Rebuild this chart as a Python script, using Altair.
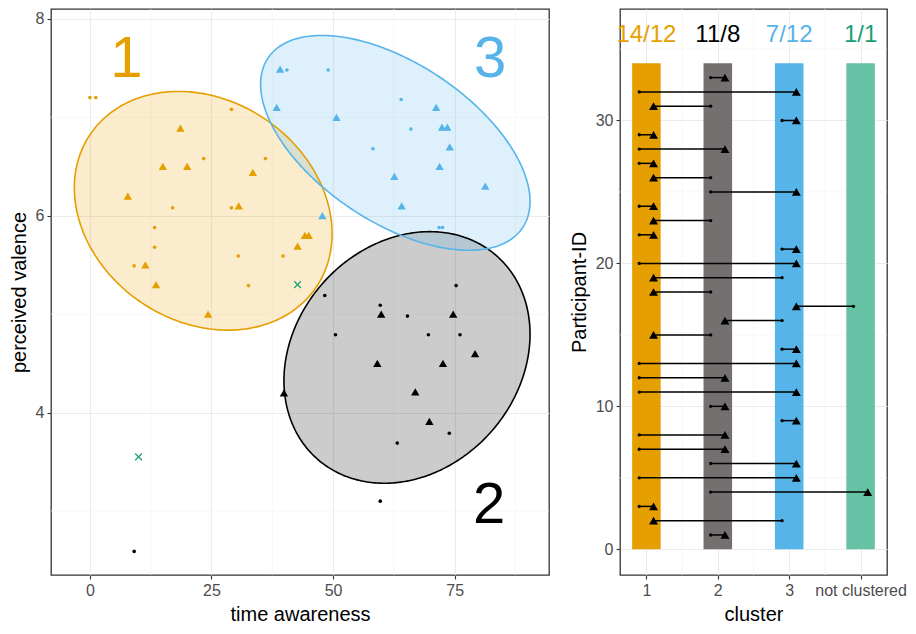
import altair as alt
import numpy as np
import pandas as pd

# ---------------- left panel: points (time awareness vs perceived valence) ----------------
c1_dot_x = [0.0, 1.2, 29.1, 23.4, 36.1, 17.0, 29.1, 13.3, 13.3, 9.1, 30.5, 39.7, 32.6]
c1_dot_y = [7.20, 7.20, 7.08, 6.58, 6.58, 6.08, 6.08, 5.88, 5.68, 5.49, 5.59, 5.59, 5.29]
c1_tri_x = [18.6, 15.0, 20.0, 33.5, 7.8, 30.6, 44.2, 45.0, 42.7, 11.4, 13.6, 24.3]
c1_tri_y = [6.89, 6.50, 6.50, 6.44, 6.20, 6.10, 5.80, 5.80, 5.69, 5.50, 5.30, 5.00]
c2_dot_x = [75.3, 48.3, 59.7, 65.3, 50.5, 69.6, 76.1, 73.9, 63.2, 59.7, 9.1]
c2_dot_y = [5.29, 5.19, 5.09, 4.98, 4.79, 4.79, 4.79, 3.79, 3.69, 3.10, 2.59]
c2_tri_x = [59.9, 74.7, 59.1, 72.6, 79.2, 66.9, 69.8, 39.9]
c2_tri_y = [5.00, 5.00, 4.50, 4.50, 4.60, 4.21, 3.91, 4.20]
c3_dot_x = [40.5, 49.0, 64.0, 66.0, 58.2, 71.8, 72.5]
c3_dot_y = [7.48, 7.48, 7.18, 6.88, 6.68, 5.88, 5.88]
c3_tri_x = [39.1, 38.4, 50.7, 71.2, 72.4, 73.5, 74.0, 71.9, 62.6, 81.3, 64.1, 47.8]
c3_tri_y = [7.49, 7.10, 7.00, 7.10, 6.90, 6.90, 6.70, 6.50, 6.40, 6.30, 6.10, 6.00]
nc_x = [10.0, 42.7]
nc_y = [3.55, 5.30]

# ellipse parameters per cluster (centre, x half-extent, y shift at x-extreme, y half-height term)
ell_cluster = ["1", "2", "3"]
ell_cx = [23.3, 65.2, 62.8]
ell_cy = [6.05, 4.56, 6.74]
ell_a = [26.5, 25.3, 27.7]
ell_b = [-0.233, 0.236, -0.595]
ell_c = [1.19, 1.256, 0.915]

big_label = ["1", "2", "3"]
big_label_x = [7.5, 82.1, 82.3]
big_label_y = [7.58, 3.05, 7.58]

# ---------------- right panel: participant transitions ----------------
participant = list(range(1, 34))
from_cluster = [2, 3, 1, 2, 1, 2, 1, 1, 3, 2, 1, 1, 1, 3, 2, 3, 4, 2, 3, 1, 3, 1, 2, 1, 2, 2, 1, 1, 1, 3, 2, 1, 2]
to_cluster = [2, 1, 1, 4, 3, 3, 2, 2, 3, 2, 3, 2, 3, 3, 1, 2, 3, 1, 1, 3, 3, 1, 1, 1, 3, 1, 1, 2, 1, 3, 1, 3, 2]
bar_cluster = [1, 2, 3, 4]
bar_top = 34
count_labels = ["14/12", "11/8", "7/12", "1/1"]
cluster_tick_labels = ["1", "2", "3", "not clustered"]

# ---------------- styling ----------------
FONT = "Liberation Sans"
point_col = {"1": "#E69F00", "2": "#000000", "3": "#56B4E9", "4": "#1B9E77"}
bar_col = {"1": "#E69F00", "2": "#747070", "3": "#56B4E9", "4": "#66C2A5"}
GRID_MINOR = "#F4F4F4"

# ---------------- build left panel ----------------
def frame(xs, ys, cl):
    return pd.DataFrame({"x": xs, "y": ys, "col": point_col[cl]})

dots = pd.concat([frame(c1_dot_x, c1_dot_y, "1"), frame(c2_dot_x, c2_dot_y, "2"),
                  frame(c3_dot_x, c3_dot_y, "3")], ignore_index=True)
tris = pd.concat([frame(c1_tri_x, c1_tri_y, "1"), frame(c2_tri_x, c2_tri_y, "2"),
                  frame(c3_tri_x, c3_tri_y, "3")], ignore_index=True)
cross = frame(nc_x, nc_y, "4")

area_rows, line_rows = [], []
for k, cl in enumerate(ell_cluster):
    t = np.linspace(0, np.pi, 181)
    xs = ell_cx[k] + ell_a[k] * np.cos(t)
    base = ell_cy[k] + ell_b[k] * np.cos(t)
    area_rows.append(pd.DataFrame({"x": xs, "y": base + ell_c[k] * np.sin(t),
                                   "y2": base - ell_c[k] * np.sin(t), "cl": cl,
                                   "col": point_col[cl]}))
    t2 = np.linspace(0, 2 * np.pi, 361)
    line_rows.append(pd.DataFrame({"x": ell_cx[k] + ell_a[k] * np.cos(t2),
                                   "y": ell_cy[k] + ell_b[k] * np.cos(t2) + ell_c[k] * np.sin(t2),
                                   "i": np.arange(len(t2)), "cl": cl, "col": point_col[cl]}))
ell_area = pd.concat(area_rows, ignore_index=True)
ell_line = pd.concat(line_rows, ignore_index=True)

labels_df = pd.DataFrame({"x": big_label_x, "y": big_label_y, "t": big_label,
                          "col": [point_col[c] for c in big_label]})

sx1 = alt.Scale(domain=[-8, 94.4], nice=False, zero=False)
sy1 = alt.Scale(domain=[2.35, 8.1], nice=False, zero=False)
ax1x = alt.Axis(values=[0, 25, 50, 75], title="time awareness", labelFlush=False)
ax1y = alt.Axis(values=[4, 6, 8], title="perceived valence")
X1 = alt.X("x:Q", scale=sx1, axis=ax1x)
Y1 = alt.Y("y:Q", scale=sy1, axis=ax1y, stack=None)

minor_x1 = [12.5, 37.5, 62.5, 87.5]
minor_y1 = [3, 5, 7]

l_minor_x = alt.Chart(pd.DataFrame({"x": minor_x1})).mark_rule(
    color=GRID_MINOR, strokeWidth=0.7).encode(x=X1)
l_minor_y = alt.Chart(pd.DataFrame({"y": minor_y1})).mark_rule(
    color=GRID_MINOR, strokeWidth=0.7).encode(y=Y1)
l_area = alt.Chart(ell_area).mark_area(fillOpacity=0.2).encode(
    x=X1, y=Y1, y2="y2:Q", color=alt.Color("col:N", scale=None), detail="cl:N")
l_line = alt.Chart(ell_line).mark_line(strokeWidth=1.6).encode(
    x=X1, y=Y1, color=alt.Color("col:N", scale=None), detail="cl:N", order="i:Q")
l_dots = alt.Chart(dots).mark_circle(size=13, opacity=1).encode(
    x=X1, y=Y1, color=alt.Color("col:N", scale=None))
l_tris = alt.Chart(tris).mark_point(shape="triangle-up", filled=True, size=70, opacity=1).encode(
    x=X1, y=Y1, color=alt.Color("col:N", scale=None))
l_cross = alt.Chart(cross).mark_point(shape="M-1,-1L1,1M-1,1L1,-1", filled=False, size=45,
                                      strokeWidth=1.2, opacity=1).encode(
    x=X1, y=Y1, color=alt.Color("col:N", scale=None))
l_text = alt.Chart(labels_df).mark_text(font=FONT, fontSize=58, baseline="middle").encode(
    x=X1, y=Y1, text="t:N", color=alt.Color("col:N", scale=None))

W1, H = 498, 566
left = alt.layer(l_minor_x, l_minor_y, l_area, l_line, l_dots, l_tris, l_cross, l_text).properties(
    width=W1, height=H)

# ---------------- build right panel ----------------
seg = pd.DataFrame({"id": participant,
                    "xa": [c - 0.1 for c in from_cluster],
                    "xb": [c + 0.1 for c in to_cluster]})
bars = pd.DataFrame({"x": [c - 0.2 for c in bar_cluster], "x2": [c + 0.2 for c in bar_cluster],
                     "y": [0] * 4, "y2": [bar_top] * 4,
                     "col": [bar_col[str(c)] for c in bar_cluster]})
counts = pd.DataFrame({"x": bar_cluster, "y": [36] * 4, "t": count_labels,
                       "col": [point_col[str(c)] for c in bar_cluster]})

sx2 = alt.Scale(domain=[0.63, 4.37], nice=False, zero=False)
sy2 = alt.Scale(domain=[-1.8, 37.8], nice=False, zero=False)
label_expr = "datum.value == 4 ? '%s' : datum.value == 3 ? '%s' : datum.value == 2 ? '%s' : '%s'" % (
    cluster_tick_labels[3], cluster_tick_labels[2], cluster_tick_labels[1], cluster_tick_labels[0])
ax2x = alt.Axis(values=bar_cluster, title="cluster", labelExpr=label_expr,
                labelFlush=False, labelOverlap=False)
ax2y = alt.Axis(values=[0, 10, 20, 30], title="Participant-ID")

minor_x2 = [1.5, 2.5, 3.5]
minor_y2 = [5, 15, 25, 35]

r_minor_x = alt.Chart(pd.DataFrame({"x": minor_x2})).mark_rule(
    color=GRID_MINOR, strokeWidth=0.7).encode(x=alt.X("x:Q", scale=sx2, axis=ax2x))
r_minor_y = alt.Chart(pd.DataFrame({"y": minor_y2})).mark_rule(
    color=GRID_MINOR, strokeWidth=0.7).encode(y=alt.Y("y:Q", scale=sy2, axis=ax2y))
r_bars = alt.Chart(bars).mark_rect().encode(
    x=alt.X("x:Q", scale=sx2, axis=ax2x), x2="x2:Q",
    y=alt.Y("y:Q", scale=sy2, axis=ax2y), y2="y2:Q",
    color=alt.Color("col:N", scale=None))
r_seg = alt.Chart(seg).mark_rule(color="black", strokeWidth=1.5).encode(
    x=alt.X("xa:Q", scale=sx2, axis=ax2x), x2="xb:Q",
    y=alt.Y("id:Q", scale=sy2, axis=ax2y))
r_dots = alt.Chart(seg).mark_circle(size=11, color="black", opacity=1).encode(
    x=alt.X("xa:Q", scale=sx2, axis=ax2x), y=alt.Y("id:Q", scale=sy2, axis=ax2y))
r_tris = alt.Chart(seg).mark_point(shape="triangle-up", filled=True, size=80, color="black",
                                   opacity=1).encode(
    x=alt.X("xb:Q", scale=sx2, axis=ax2x), y=alt.Y("id:Q", scale=sy2, axis=ax2y))
r_text = alt.Chart(counts).mark_text(font=FONT, fontSize=24, baseline="middle").encode(
    x=alt.X("x:Q", scale=sx2, axis=ax2x), y=alt.Y("y:Q", scale=sy2, axis=ax2y),
    text="t:N", color=alt.Color("col:N", scale=None))

W2 = 267
right = alt.layer(r_minor_x, r_minor_y, r_bars, r_seg, r_dots, r_tris, r_text).properties(
    width=W2, height=H)

chart = alt.hconcat(left, right, spacing=18, padding=0).configure(
    font=FONT
).configure_axis(
    labelFont=FONT, labelFontSize=16, labelColor="#4D4D4D",
    titleFont=FONT, titleFontSize=20, titleFontWeight="normal", titleColor="#000000",
    tickColor="#333333", tickSize=4, tickWidth=1.1, labelPadding=3, titlePadding=6,
    domain=False, grid=True, gridColor="#EBEBEB", gridWidth=1.1
).configure_view(stroke="#333333", strokeWidth=1.3)

chart.save("out.html", embed_options={"renderer": "svg", "actions": False})
